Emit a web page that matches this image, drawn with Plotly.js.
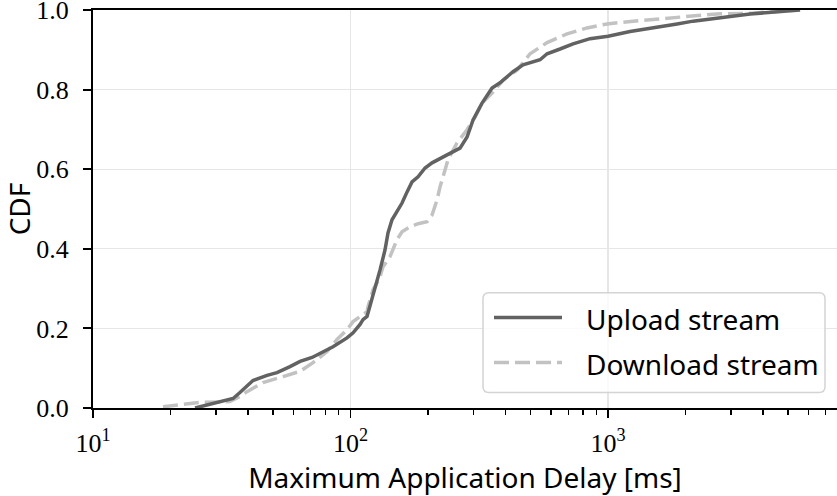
<!DOCTYPE html>
<html>
<head>
<meta charset="utf-8">
<script src="https://cdn.plot.ly/plotly-3.0.1.min.js"></script>
<style>
  html, body { margin: 0; padding: 0; background: #ffffff; }
  #chart { width: 837px; height: 496px; }
</style>
</head>
<body>
<div id="chart"></div>
<script>
// Maximum application delay (ms) and empirical CDF for each stream
const delayUpload = [24.9, 35.0, 37.2, 41.8, 47.4, 51.8, 58.2, 63.7, 70.9, 78.2, 85.5, 96.9,
  102.3, 108.9, 111.8, 115.9, 119.0, 124.5, 130.2, 136.1, 139.8, 144.9, 151.5, 158.5, 165.8,
  173.3, 182.9, 194.7, 207.3, 222.7, 237.1, 266.2, 283.5, 299.1, 324.1, 354.4, 380.7, 427.6,
  467.7, 544.5, 579.8, 651.1, 731.2, 851.3, 1000, 1217, 1456, 1854, 2138, 2651, 3560, 5567];
const cdfUpload = [0.0, 0.024, 0.039, 0.069, 0.082, 0.089, 0.104, 0.117, 0.127, 0.142, 0.154, 0.176,
  0.189, 0.210, 0.222, 0.230, 0.255, 0.305, 0.347, 0.397, 0.440, 0.473, 0.493, 0.515, 0.543,
  0.568, 0.581, 0.603, 0.616, 0.628, 0.636, 0.653, 0.681, 0.724, 0.766, 0.804, 0.817, 0.845,
  0.862, 0.875, 0.890, 0.902, 0.915, 0.928, 0.934, 0.946, 0.955, 0.965, 0.972, 0.980, 0.990, 1.0];

const delayDownload = [18.7, 26.0, 34.0, 37.2, 39.6, 45.7, 54.7, 63.7, 71.5, 81.1, 88.6, 96.9,
  102.3, 108.9, 115.9, 117.0, 119.0, 122.3, 126.8, 130.2, 133.7, 142.3, 151.5, 158.5, 170.2,
  182.9, 198.2, 207.3, 216.8, 222.7, 232.8, 239.1, 259.1, 283.5, 304.5, 324.1, 354.4, 391.0,
  443.2, 498.0, 579.8, 693.0, 828.7, 991, 1251, 1695, 2651, 3620, 5400];
const cdfDownload = [0.003, 0.014, 0.016, 0.029, 0.041, 0.064, 0.079, 0.092, 0.114, 0.142, 0.172, 0.197,
  0.217, 0.230, 0.242, 0.255, 0.270, 0.297, 0.315, 0.330, 0.355, 0.380, 0.423, 0.443, 0.455,
  0.463, 0.468, 0.485, 0.523, 0.556, 0.598, 0.624, 0.666, 0.699, 0.731, 0.766, 0.791, 0.824,
  0.849, 0.890, 0.918, 0.940, 0.955, 0.965, 0.972, 0.980, 0.990, 0.992, 1.0];

const seriesNames = ['Upload stream', 'Download stream'];
const xTickVals = [10, 100, 1000];
const xTickText = ['10<sup>1</sup>', '10<sup>2</sup>', '10<sup>3</sup>'];
const xMinorVals = [20, 30, 40, 50, 60, 70, 80, 90, 200, 300, 400, 500, 600, 700, 800, 900,
  2000, 3000, 4000, 5000, 6000, 7000, 8000, 9000];

const COLOR_UP = '#626262';
const COLOR_DOWN = '#c2c2c2';
const serif = '"Liberation Serif", "DejaVu Serif", serif';
const sans = '"Noto Sans", Lato, sans-serif';

const W = 837, H = 496;
const M = { l: 93, r: 0, t: 10, b: 87.5 };
const plotW = W - M.l - M.r, plotH = H - M.t - M.b;
const px2paperX = px => (px - M.l) / plotW;
const px2paperY = py => (H - M.b - py) / plotH;

// rounded rectangle path in paper coordinates
function roundedRect(x0, y0, x1, y1, r) {
  const rx = r / plotW, ry = r / plotH;
  const X0 = px2paperX(x0), X1 = px2paperX(x1), Y0 = px2paperY(y1), Y1 = px2paperY(y0);
  return `M${X0 + rx},${Y1} L${X1 - rx},${Y1} Q${X1},${Y1} ${X1},${Y1 - ry} ` +
         `L${X1},${Y0 + ry} Q${X1},${Y0} ${X1 - rx},${Y0} L${X0 + rx},${Y0} ` +
         `Q${X0},${Y0} ${X0},${Y0 + ry} L${X0},${Y1 - ry} Q${X0},${Y1} ${X0 + rx},${Y1} Z`;
}

const traces = [
  { x: delayDownload, y: cdfDownload, name: seriesNames[1], type: 'scatter', mode: 'lines',
    line: { color: COLOR_DOWN, width: 3.5, dash: '15px,6px' }, showlegend: false, hoverinfo: 'skip' },
  { x: delayUpload, y: cdfUpload, name: seriesNames[0], type: 'scatter', mode: 'lines',
    line: { color: COLOR_UP, width: 3.5 }, showlegend: false, hoverinfo: 'skip' }
];

// legend box with long line samples
const legBox = { x0: 483, y0: 293, x1: 825, y1: 393 };
const legRows = [318, 363];
const shapes = [
  { type: 'path', xref: 'paper', yref: 'paper', path: roundedRect(legBox.x0, legBox.y0, legBox.x1, legBox.y1, 6),
    fillcolor: 'rgba(255,255,255,0.8)', line: { color: '#d4d4d4', width: 1.5 }, layer: 'above' },
  { type: 'line', xref: 'paper', yref: 'paper', x0: px2paperX(494), x1: px2paperX(562),
    y0: px2paperY(legRows[0]), y1: px2paperY(legRows[0]), line: { color: COLOR_UP, width: 3.5 }, layer: 'above' },
  { type: 'line', xref: 'paper', yref: 'paper', x0: px2paperX(494), x1: px2paperX(562),
    y0: px2paperY(legRows[1]), y1: px2paperY(legRows[1]), line: { color: COLOR_DOWN, width: 3.5, dash: '15px,6px' }, layer: 'above' }
];
const annotations = seriesNames.map((name, i) => ({
  xref: 'paper', yref: 'paper', x: px2paperX(584), y: px2paperY(legRows[i] + 1),
  xanchor: 'left', yanchor: 'middle', showarrow: false, text: name,
  font: { family: sans, size: 28, color: '#000' }
}));

const layout = {
  width: W, height: H,
  margin: M,
  paper_bgcolor: '#ffffff', plot_bgcolor: '#ffffff',
  showlegend: false,
  xaxis: {
    type: 'log', range: [1, Math.log10(7745)],
    tickmode: 'array', tickvals: xTickVals, ticktext: xTickText,
    ticks: 'outside', ticklen: 8, tickwidth: 1.8, tickcolor: '#000',
    minor: { tickmode: 'array', tickvals: xMinorVals, ticks: 'outside', ticklen: 5, tickwidth: 1.3, tickcolor: '#000', showgrid: false },
    showgrid: true, gridcolor: '#e6e6e6', gridwidth: 1.3,
    showline: true, linecolor: '#000', linewidth: 2, mirror: true,
    zeroline: false, ticklabeloverflow: 'allow', ticklabelstandoff: 3,
    tickfont: { family: serif, size: 26, color: '#000' },
    title: { text: 'Maximum Application Delay [ms]', font: { family: sans, size: 28, color: '#000' }, standoff: 0 }
  },
  yaxis: {
    range: [0, 1], dtick: 0.2, tick0: 0, tickformat: '.1f',
    ticks: 'outside', ticklen: 8, tickwidth: 1.8, tickcolor: '#000',
    ticklabelstandoff: 9, ticklabeloverflow: 'allow',
    showgrid: true, gridcolor: '#e6e6e6', gridwidth: 1.3,
    showline: true, linecolor: '#000', linewidth: 2, mirror: false,
    zeroline: false,
    tickfont: { family: serif, size: 26, color: '#000' },
    title: { text: 'CDF', font: { family: sans, size: 28, color: '#000' }, standoff: 1 }
  },
  shapes: shapes,
  annotations: annotations
};

Plotly.newPlot('chart', traces, layout, { staticPlot: true, displayModeBar: false });
</script>
</body>
</html>
